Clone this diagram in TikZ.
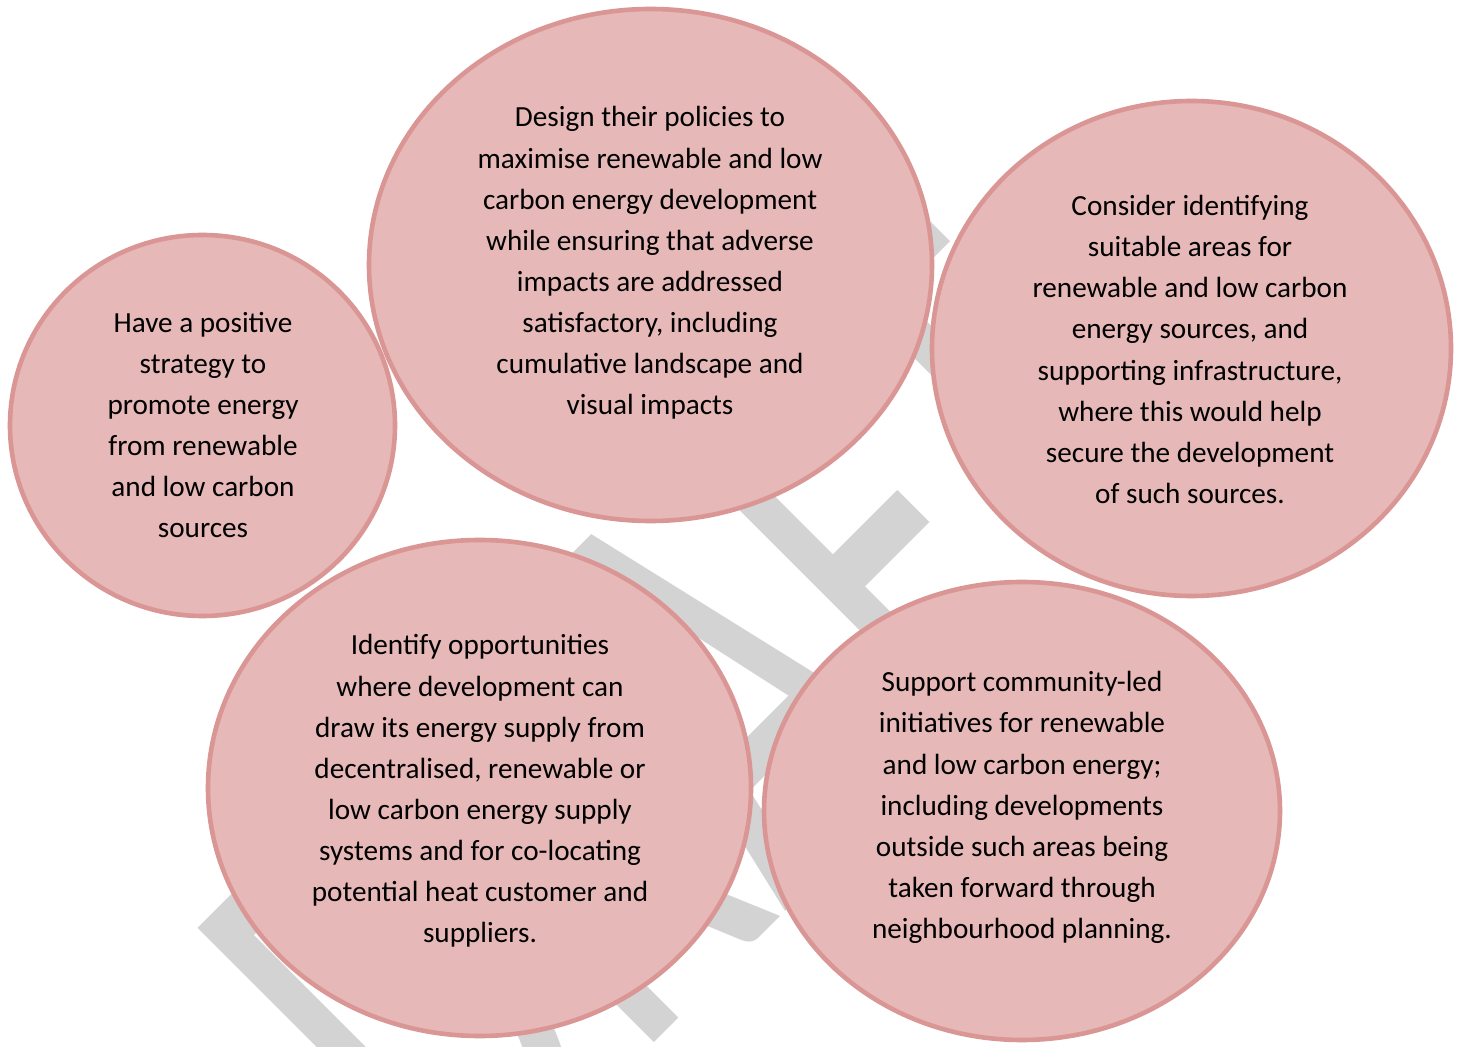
\documentclass[tikz,border=0pt]{standalone}
\usepackage{fontspec}
\setmainfont{Carlito}
\newfontfamily\markfont[Kerning=Off]{Carlito}
\usetikzlibrary{shapes.geometric}
\definecolor{bubblefill}{RGB}{230,184,183}
\definecolor{bubbleedge}{RGB}{217,150,148}
\definecolor{markgray}{RGB}{211,211,211}
\begin{document}
\begin{tikzpicture}[x=0.5pt,y=-0.5pt,
  bubble/.style={ellipse, draw=bubbleedge, fill=bubblefill, line width=2.3pt, inner sep=0pt},
  bubbletext/.style={align=center, font=\fontsize{14.6}{20.55}\selectfont, text=black, inner sep=0pt},
  watermark/.style={text=markgray, font=\markfont\fontsize{100}{100}\selectfont, inner sep=0pt,
    anchor=base west, rotate=45, xscale=1.955, yscale=3.145}]
\useasboundingbox (0,0) rectangle (1458,1047);
\fill[white] (0,0) rectangle (1458,1047);

% diagonal, stretched DRAFT watermark behind the bubbles
\node[watermark] (wm) at (464.2,1233) {DRAFT};

% the five bubbles
\node[bubble, minimum width=192.5pt, minimum height=190.5pt] (e1) at (202.5,425.5) {};
\node[bubble, minimum width=281.5pt, minimum height=256pt] (e2) at (650.5,265) {};
\node[bubble, minimum width=259.5pt, minimum height=247.5pt] (e3) at (1191.5,348.5) {};
\node[bubble, minimum width=271.5pt, minimum height=248pt] (e4) at (479.5,788) {};
\node[bubble, minimum width=258pt, minimum height=229pt] (e5) at (1022,811) {};

% texts
\node[bubbletext] (t1) at (203,425) {Have a positive\\strategy to\\promote energy\\from renewable\\and low carbon\\sources};
\node[bubbletext] (t2) at (650,263) {Design their policies to\\maximise renewable and low\\carbon energy development\\while ensuring that adverse\\impacts are addressed\\satisfactory, including\\cumulative landscape and\\visual impacts};
\node[bubbletext] (t3) at (1190,349.5) {Consider identifying\\suitable areas for\\renewable and low carbon\\energy sources, and\\supporting infrastructure,\\where this would help\\secure the development\\of such sources.};
\node[bubbletext] (t4) at (480,791) {Identify opportunities\\where development can\\draw its energy supply from\\decentralised, renewable or\\low carbon energy supply\\systems and for co-locating\\potential heat customer and\\suppliers.};
\node[bubbletext] (t5) at (1022,807.5) {Support community-led\\initiatives for renewable\\and low carbon energy;\\including developments\\outside such areas being\\taken forward through\\neighbourhood planning.};
\end{tikzpicture}
\end{document}
